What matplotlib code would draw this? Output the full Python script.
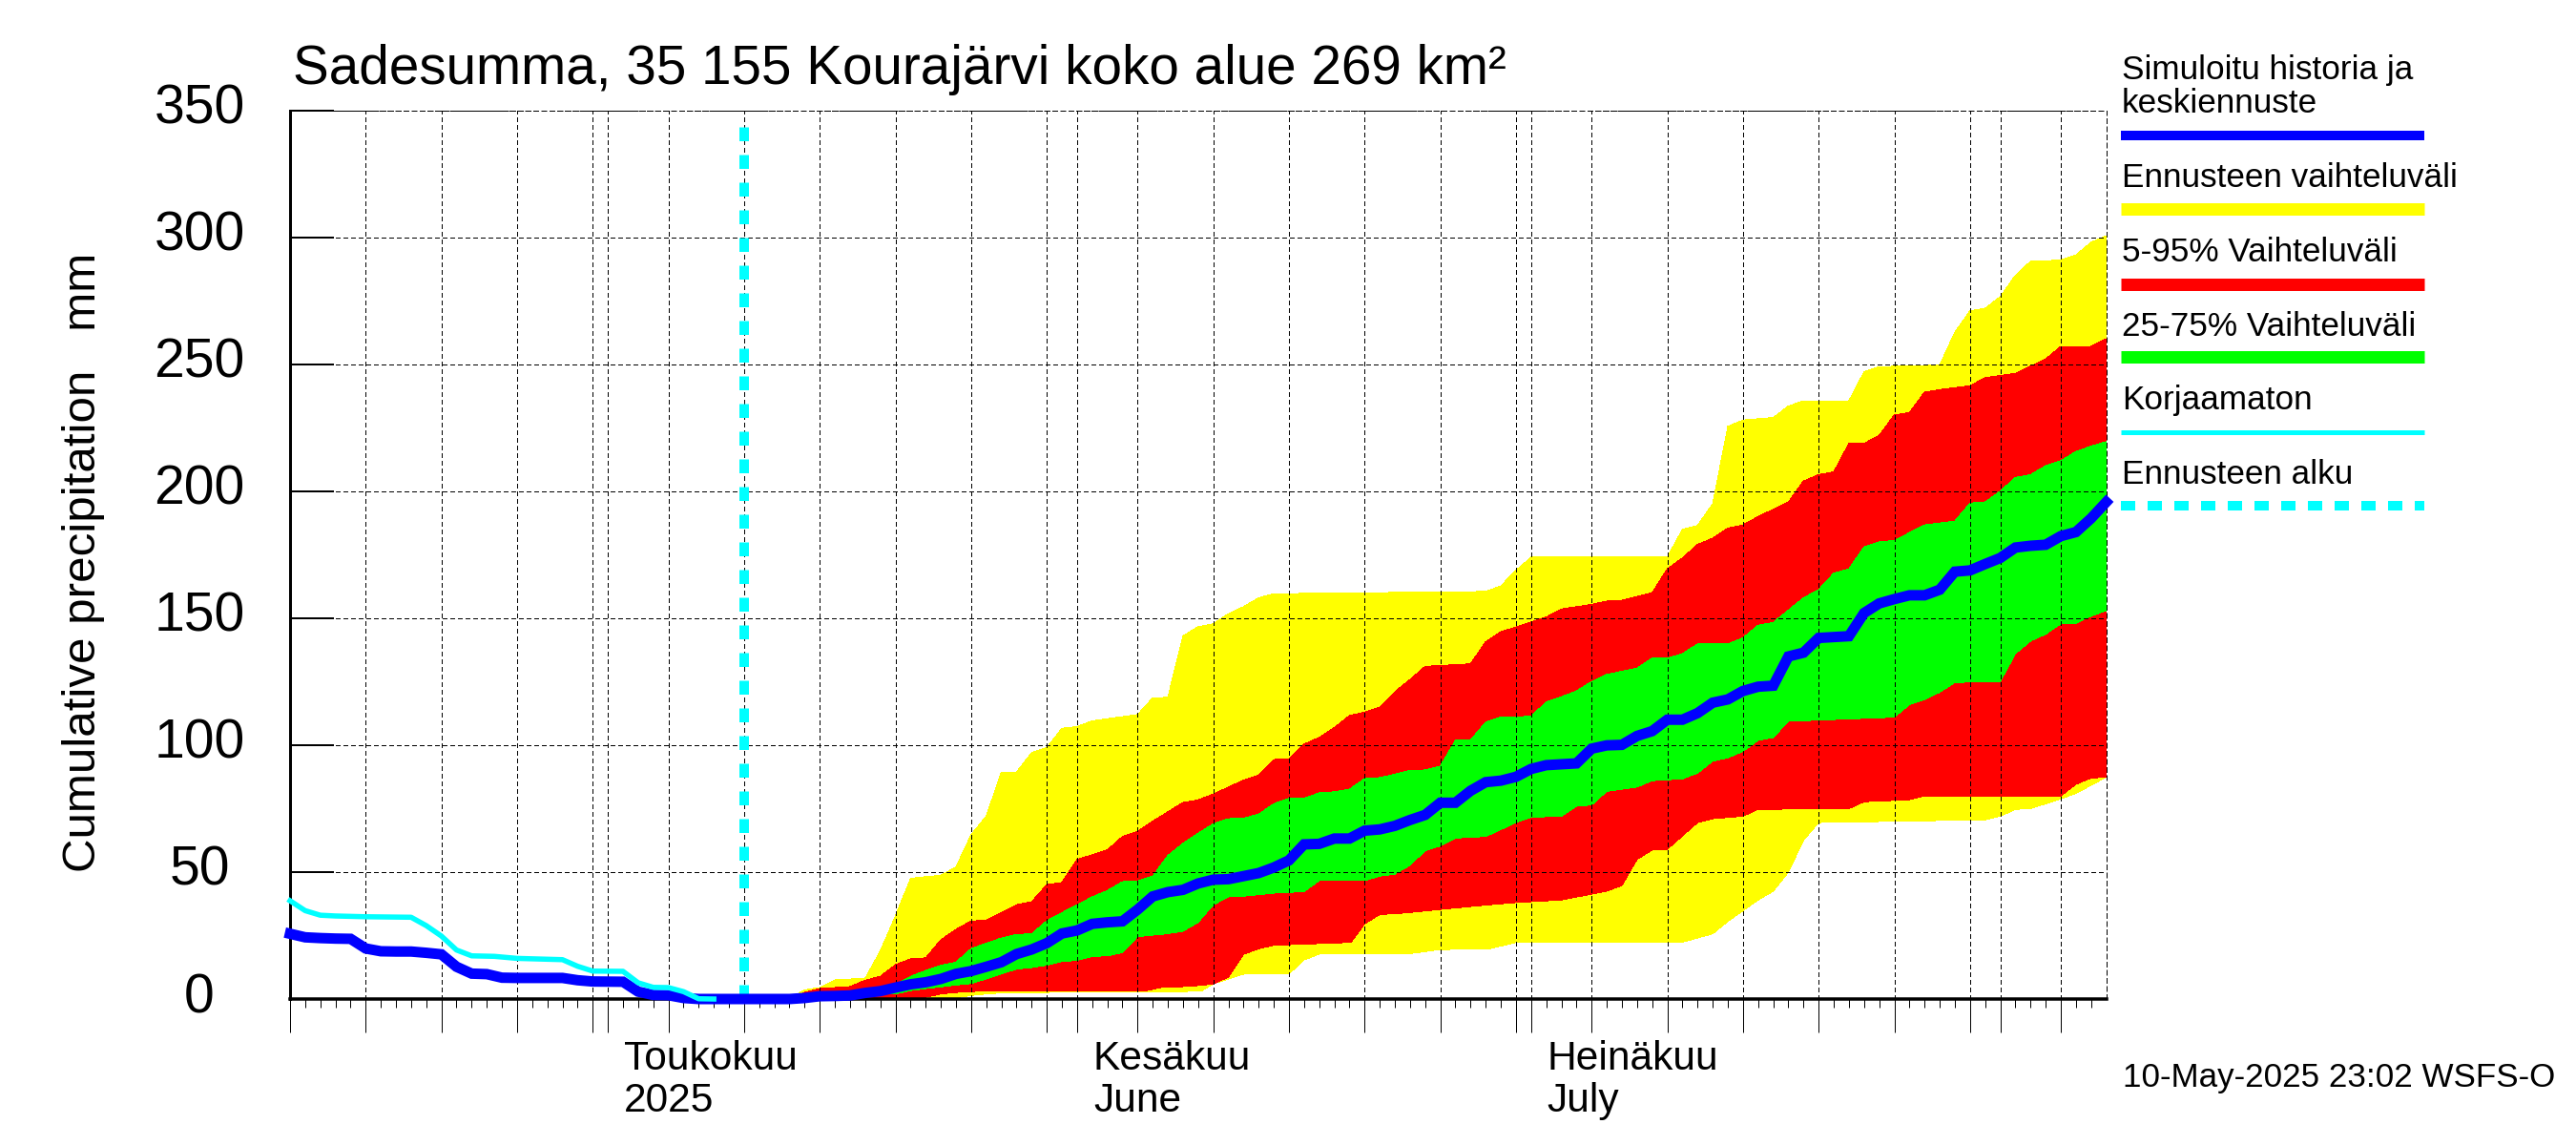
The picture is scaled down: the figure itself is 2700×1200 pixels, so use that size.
import matplotlib
matplotlib.use("Agg")
import matplotlib.pyplot as plt
import numpy as np
from matplotlib.lines import Line2D
from matplotlib.transforms import ScaledTranslation

plt.rcParams['font.family'] = ['Liberation Sans', 'DejaVu Sans']

W, H = 2700, 1200
PT = 72 / 100  # points per pixel at dpi 100

# days counted from 10 Apr 2025
yellow_up_d = [33, 33.7, 34, 35, 36, 38, 39, 40, 41, 42, 43, 44, 45, 46, 47, 48, 49, 50, 51, 52, 53, 54, 56, 57, 58, 59, 60, 61, 62, 63, 64, 65, 76, 79, 80, 81, 82, 91, 92, 93, 94, 95, 96, 98, 99, 100, 103, 104, 105, 109, 110, 111, 112, 113, 114, 115, 117, 118, 119, 120]
yellow_up_v = [0, 2.6, 3.6, 4.5, 7.5, 8.2, 18.9, 32.7, 47.5, 48.2, 48.7, 52, 64.7, 72, 89.4, 89.4, 97, 99, 106.6, 107.3, 109.5, 110.4, 112, 118.6, 118.8, 143, 146.6, 147.8, 151.7, 154.5, 158, 159.6, 160.3, 160.5, 162.7, 168.8, 174, 174, 185, 186.5, 195, 225.5, 228, 229, 233.5, 235.6, 235.6, 247, 249, 249.7, 262.6, 271, 272, 276.6, 285, 290.5, 291, 293, 298, 300.6]
yellow_lo_d = [33, 41, 44, 45, 46, 47.5, 56.5, 60.2, 61, 63, 66, 67, 68, 74, 76, 79.2, 81, 92, 94, 95, 97, 98, 99, 100, 101, 112, 113, 114, 115, 117, 118, 120]
yellow_lo_v = [0, 0, 0.5, 1.4, 2, 2.6, 2.7, 3.1, 6, 9.8, 9.9, 15.4, 17.7, 17.9, 19.5, 19.7, 22.3, 22.4, 25.7, 30.6, 39, 42.5, 50, 62.6, 69.5, 70.6, 72, 74.7, 75, 78.8, 81, 87.4]

red_up_d = [33, 34, 35, 36, 37, 38, 39, 40, 41, 42, 43, 44, 45, 46, 47, 48, 49, 50, 51, 52, 54, 55, 56, 57, 59, 60, 61, 63, 64, 65, 66, 67, 68, 69, 70, 71, 72, 73, 74, 75, 78, 79, 80, 81, 83, 84, 86, 87, 88, 90, 91, 92, 93, 94, 95, 96, 97, 99, 100, 101, 102, 103, 104, 105, 106, 107, 108, 109, 111, 112, 114, 116, 117, 119, 120]
red_up_v = [0, 2.6, 4.1, 4.5, 4.9, 7.4, 8.9, 13.5, 15.8, 16.2, 23.3, 27.4, 30.7, 31, 34, 37.1, 38.3, 45, 45.9, 54.9, 58.7, 64, 66, 70, 77.4, 78.4, 80.7, 86.2, 88.2, 94.3, 94.6, 100.4, 103, 106.9, 111.6, 113, 115, 121, 125.8, 131, 132, 140.7, 144.6, 146.5, 150.4, 153.6, 155.4, 156.7, 157, 160, 169.4, 173.7, 179, 181.5, 185.4, 186.7, 190, 195.7, 204, 206.5, 207.6, 218.8, 218.8, 222, 230, 231, 239, 240, 241.5, 244.7, 246.4, 252, 257, 257, 260]
red_lo_d = [33, 41, 42, 43, 44, 45, 56.5, 57.5, 58.6, 60.3, 61, 62, 63, 64, 65, 66, 70.1, 71, 72, 73.3, 76, 79, 81, 84, 87, 88, 89, 90, 91, 93, 94, 96, 97, 103, 104, 107, 108, 117, 118, 119, 120]
red_lo_v = [0, 0, 0.7, 2, 2.6, 3, 3.2, 4.5, 4.75, 5.4, 6, 8.6, 17.6, 19.8, 21.2, 21.4, 22.3, 29.6, 33.3, 33.7, 35.3, 37, 38, 39, 42.5, 44.7, 55, 58.7, 59, 69.5, 71, 72, 74.7, 75, 77.7, 78.5, 80, 80, 84.6, 87, 87.4]

green_up_d = [37, 40, 41, 42, 43, 44, 45, 46, 47, 48, 49, 50, 51, 52, 53, 54, 55, 56, 57, 58, 59, 60, 61, 62, 63, 64, 65, 66, 67, 68, 69, 70, 71, 72, 73, 74, 75, 76, 77, 78, 79, 80, 82, 83, 84, 85, 86, 87, 89, 90, 91, 92, 93, 95, 96, 97, 98, 100, 101, 102, 103, 104, 105, 106, 108, 110, 111, 112, 113, 114, 115, 116, 117, 118, 119, 120]
green_up_v = [1.5, 5.8, 8.9, 11.2, 13.3, 14.5, 19.8, 22, 24, 25.4, 25.7, 30.8, 34, 37.1, 40.2, 42.7, 46.2, 46.5, 48.4, 56.5, 61.3, 65.3, 69, 71, 71.2, 72.8, 76.9, 79, 79, 81.2, 81.6, 82.6, 86.8, 87.2, 88.5, 90, 90.2, 91.7, 101.9, 102, 109, 111, 111.3, 117, 119, 121.3, 125, 127.8, 130.3, 134.2, 134.2, 136, 139.8, 139.8, 142.2, 147.2, 148.3, 158, 161.2, 167.7, 169.4, 178, 180, 180.6, 186.7, 188.2, 195.3, 195.7, 200, 205.4, 206.5, 210, 212, 215.6, 217.7, 219.5]
green_lo_d = [37, 40, 41, 42, 43, 44, 45, 46, 47, 48, 49, 50, 51, 52, 53, 54, 55, 56, 57.8, 59, 60, 61, 62, 63, 65, 67, 68, 71, 72, 73, 74, 75, 76, 77, 79, 81, 82, 84, 85, 86, 87, 89, 90, 92, 93, 94, 95, 96, 97, 98, 99, 106, 107, 108, 109, 110, 113, 114, 115, 116, 117, 118, 119, 120]
green_lo_v = [1.5, 2, 3.3, 4.1, 4.8, 5.5, 6.1, 7.9, 9.9, 11.8, 12.4, 13.3, 14.8, 15.2, 16.8, 17, 18.3, 24.6, 25.6, 26.7, 30.2, 37.1, 40.2, 40.5, 41.7, 42.3, 46.6, 46.6, 48.4, 49.2, 52.7, 58.4, 60.3, 63.4, 64, 69.5, 71.6, 72, 76, 76.4, 81.8, 83.5, 86, 86.7, 89, 93.7, 95, 97.5, 101.9, 103, 109.4, 111, 115.9, 118, 120.8, 124.7, 125, 136, 141, 143.7, 147.8, 148, 150.8, 153]

blue_d = [0, 1, 2, 3, 4, 5, 6, 7, 8, 9, 10, 11, 12, 13, 14, 15, 18, 19, 20, 22, 23, 24, 25, 26, 27, 33, 34, 35, 36, 37, 38, 39, 40, 41, 42, 43, 44, 45, 46, 47, 48, 49, 50, 51, 52, 53, 54, 55, 56, 57, 58, 59, 60, 61, 62, 63, 64, 65, 66, 67, 68, 69, 70, 71, 72, 73, 74, 75, 76, 77, 78, 79, 80, 81, 82, 83, 85, 86, 87, 88, 89, 90, 91, 92, 93, 94, 95, 96, 97, 98, 99, 100, 101, 103, 104, 105, 106, 107, 108, 109, 110, 111, 112, 113, 114, 115, 116, 117, 118, 119, 120]
blue_v = [25.7, 24.3, 24, 23.8, 23.7, 19.9, 18.8, 18.7, 18.7, 18.2, 17.6, 12.7, 10, 9.8, 8.4, 8.3, 8.3, 7.4, 6.9, 6.8, 2.9, 1.6, 1.5, 0.4, 0, 0, 0.4, 1.1, 1.2, 1.4, 2.4, 3.1, 4.5, 5.8, 6.6, 7.9, 9.9, 11, 12.7, 14.5, 17.7, 19.5, 22, 25.8, 27, 29.6, 30.2, 30.6, 35.2, 40.4, 42.1, 43, 45.5, 47, 47.2, 48.4, 49.6, 51.8, 54.6, 60.9, 61.1, 63.2, 63.2, 66.3, 66.8, 68.2, 70.5, 72.5, 77.3, 77.3, 82, 85.4, 86, 87.5, 90.6, 92.1, 92.8, 98.6, 99.9, 100.1, 103.6, 105.5, 110, 110, 112.6, 116.7, 118, 121.3, 123, 123.4, 134.9, 136.4, 142.2, 142.9, 152, 155.8, 157.5, 159, 159, 161.2, 168.3, 168.8, 171.3, 173.7, 177.8, 178.5, 178.9, 182.3, 183.9, 189.3, 195.7]

cyan_d = [0, 1, 2, 3, 5, 8, 9, 10, 11, 12, 13.5, 15, 18, 19, 20, 22, 23, 24, 25, 26, 27, 28]
cyan_v = [38.7, 34.8, 33, 32.7, 32.4, 32.2, 28.9, 24.8, 19.3, 17, 16.8, 16, 15.5, 12.9, 11, 10.9, 6.4, 4.6, 4.5, 2.9, 0.1, 0]

forecast_day = 30
forecast_top = 345

y_ticks = [0, 50, 100, 150, 200, 250, 300, 350]
# 15 Apr, 20 Apr ... every 5th of the calendar month
five_days = [0, 5, 10, 15, 20, 25, 30, 35, 40, 45, 50, 56, 61, 66, 71, 76, 81, 86, 91, 96, 101, 106, 111, 117]
month_days = [21, 52, 82, 113]
month_names = ["Toukokuu", "Kesäkuu", "Heinäkuu"]
month_sub = ["2025", "June", "July"]

legend_labels = ["Ennusteen vaihteluväli", "5-95% Vaihteluväli", "25-75% Vaihteluväli", "Korjaamaton", "Ennusteen alku"]
legend_text_y = [196, 274, 352, 429.5, 507]


def fpos(x, y):
    return x / W, 1 - y / H


fig = plt.figure(figsize=(W / 100, H / 100), dpi=100)
left, top, right, bottom = 304, 115.6, 2207.6, 1047
ax = fig.add_axes([left / W, 1 - bottom / H, (right - left) / W, (bottom - top) / H])
ax.set_xlim(0, 120)
ax.set_ylim(0, 350)


def band(up_d, up_v, lo_d, lo_v, color):
    xs = np.r_[up_d, lo_d[::-1]]
    ys = np.r_[up_v, lo_v[::-1]]
    ax.fill(xs, ys, color=color, lw=0, antialiased=False, zorder=1)


band(yellow_up_d, yellow_up_v, yellow_lo_d, yellow_lo_v, "#ffff00")
band(red_up_d, red_up_v, red_lo_d, red_lo_v, "#ff0000")
band(green_up_d, green_up_v, green_lo_d, green_lo_v, "#00ff00")

# grid goes on top of the bands
ax.set_axisbelow(False)
ax.set_xticks(sorted(five_days + month_days))
ax.set_xticks(range(0, 120), minor=True)
ax.set_yticks(y_ticks)
ax.grid(True, color="black", lw=1 * PT, linestyle=(0, (5, 3.5)), antialiased=False)
ax.tick_params(axis="x", which="major", length=35 * PT, width=1 * PT, labelbottom=False)
ax.tick_params(axis="x", which="minor", length=9 * PT, width=1 * PT)
ax.tick_params(axis="y", direction="in", length=46 * PT, width=2 * PT, pad=95 * PT, labelsize=41)

for tick in ax.xaxis.get_major_ticks():
    if tick.get_loc() in month_days:
        tick.tick1line.set_markersize(71 * PT)

shift = ScaledTranslation(0, 1 / 100, fig.dpi_scale_trans)
for lab in ax.get_yticklabels():
    lab.set_ha("center")
    lab.set_va("center")
    lab.set_transform(lab.get_transform() + shift)

ax.spines["left"].set_linewidth(3 * PT)
ax.spines["bottom"].set_linewidth(3.5 * PT)
for side in ["top", "right"]:
    ax.spines[side].set_linewidth(1 * PT)
    ax.spines[side].set_linestyle((0, (5, 3.5)))

ax.plot([forecast_day, forecast_day], [0, forecast_top], color="#00ffff", lw=10 * PT,
        linestyle=(0, (1.45, 1.45)), dash_capstyle="butt", zorder=3)
ax.plot(blue_d, blue_v, color="#0000ff", lw=11 * PT, clip_on=False, zorder=4, solid_joinstyle="miter")
ax.plot(cyan_d, cyan_v, color="#00ffff", lw=5.5 * PT, clip_on=False, zorder=5)

x, y = fpos(307, 88)
fig.text(x, y, "Sadesumma, 35 155 Kourajärvi koko alue 269 km²", fontsize=40.8, va="baseline")
x, y = fpos(100, 589)
fig.text(x, y, "Cumulative precipitation   mm", fontsize=35.5, rotation=90, rotation_mode="anchor",
         ha="center", va="baseline")

for d, a, b in zip(month_days, month_names, month_sub):
    ax.annotate(a, xy=(d, 0), xycoords=("data", "axes fraction"), xytext=(17 * PT, -74 * PT),
                textcoords="offset points", fontsize=30.6, va="baseline")
    ax.annotate(b, xy=(d, 0), xycoords=("data", "axes fraction"), xytext=(17 * PT, -118 * PT),
                textcoords="offset points", fontsize=30.6, va="baseline")

# legend on the right, built by hand
lx0, lx1 = 2223, 2541
lx_text = 2224
x, y = fpos(lx_text, 82.7)
fig.text(x, y, "Simuloitu historia ja", fontsize=25.3, va="baseline")
x, y = fpos(lx_text, 118)
fig.text(x, y, "keskiennuste", fontsize=25.3, va="baseline")
for lab, ty in zip(legend_labels, legend_text_y):
    x, y = fpos(lx_text, ty)
    fig.text(x, y, lab, fontsize=25.3, va="baseline")


def legend_line(y, color, px, **kw):
    fig.add_artist(Line2D([lx0 / W, lx1 / W], [1 - y / H, 1 - y / H], transform=fig.transFigure,
                          color=color, lw=px * PT, solid_capstyle="butt", **kw))


legend_line(142, "#0000ff", 10)
legend_line(219.4, "#ffff00", 13)
legend_line(297.6, "#ff0000", 13)
legend_line(374, "#00ff00", 13)
legend_line(452.5, "#00ffff", 5)
legend_line(530, "#00ffff", 10, linestyle=(0, (1.5, 1.3)), dash_capstyle="butt")

x, y = fpos(2225, 1139)
fig.text(x, y, "10-May-2025 23:02 WSFS-O", fontsize=25.2, va="baseline")

fig.savefig("out.png", dpi=100)
